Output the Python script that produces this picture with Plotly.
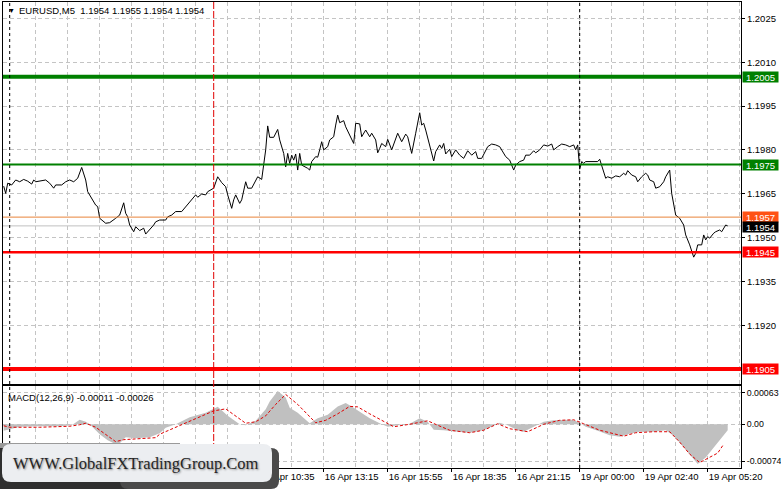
import plotly.graph_objects as go

# ---------------- data ----------------
title_text = "EURUSD,M5\u00a0\u00a01.1954 1.1955 1.1954 1.1954"
macd_label = "MACD(12,26,9) -0.00011 -0.00026"
watermark_text = "WWW.GlobalFXTradingGroup.Com"

price_bar = [0, 1, 2, 4, 6, 8, 10, 12, 14, 15, 16, 21, 23, 25, 26, 29, 31, 33, 35, 37,
             39, 41, 42, 44, 46, 47, 48, 51, 53, 56, 57, 58, 60, 61, 62, 63, 65, 66, 68, 70,
             71, 73, 75, 76, 78, 81, 82, 84, 86, 89, 91, 94, 96, 97, 99, 101, 102, 105, 107, 109,
             111, 112, 114, 115, 116, 118, 119, 121, 122, 124, 126, 127, 129, 130, 131, 132, 133, 135, 137, 138,
             140, 141, 142, 143, 144, 145, 146, 147, 148, 149, 151, 152, 153, 154, 156, 157, 158, 159, 160, 162,
             163, 165, 166, 167, 168, 170, 171, 173, 175, 176, 178, 179, 180, 181, 183, 184, 186, 187, 188, 189,
             191, 192, 194, 196, 197, 199, 201, 202, 203, 204, 206, 208, 209, 210, 211, 213, 215, 216, 218, 219,
             220, 221, 223, 224, 226, 228, 230, 232, 234, 236, 237, 239, 241, 242, 244, 246, 248, 250, 251, 253,
             255, 256, 258, 260, 261, 263, 265, 266, 268, 270, 272, 274, 275, 277, 279, 281, 283, 285, 286, 287,
             288, 289, 290, 291, 295, 297, 298, 299, 301, 302, 304, 306, 308, 310, 311, 312, 314, 316, 317, 319,
             321, 322, 323, 325, 326, 328, 330, 331, 333, 334, 335, 336, 338, 340, 341, 343, 345, 346, 347, 349,
             350, 351, 352, 353, 355, 356, 358, 359, 361, 362]
price_close = [1.19676, 1.19651, 1.19686, 1.19680, 1.19697, 1.19691, 1.19699, 1.19693, 1.19683, 1.19697,
               1.19691, 1.19697, 1.19686, 1.19669, 1.19680, 1.19680, 1.19691, 1.19697, 1.19691, 1.19703,
               1.19740, 1.19697, 1.19657, 1.19634, 1.19611, 1.19606, 1.19566, 1.19549, 1.19551, 1.19566,
               1.19571, 1.19577, 1.19619, 1.19583, 1.19571, 1.19543, 1.19520, 1.19537, 1.19524, 1.19532,
               1.19512, 1.19526, 1.19543, 1.19554, 1.19560, 1.19560, 1.19571, 1.19577, 1.19589, 1.19589,
               1.19606, 1.19629, 1.19646, 1.19638, 1.19649, 1.19646, 1.19657, 1.19669, 1.19708, 1.19688,
               1.19674, 1.19646, 1.19600, 1.19629, 1.19646, 1.19617, 1.19629, 1.19691, 1.19669, 1.19669,
               1.19697, 1.19708, 1.19699, 1.19742, 1.19800, 1.19882, 1.19843, 1.19843, 1.19870, 1.19834,
               1.19788, 1.19742, 1.19788, 1.19754, 1.19782, 1.19765, 1.19786, 1.19731, 1.19788, 1.19748,
               1.19742, 1.19737, 1.19731, 1.19760, 1.19777, 1.19775, 1.19800, 1.19828, 1.19800, 1.19811,
               1.19834, 1.19845, 1.19885, 1.19919, 1.19893, 1.19900, 1.19879, 1.19851, 1.19822, 1.19891,
               1.19889, 1.19845, 1.19857, 1.19868, 1.19845, 1.19857, 1.19834, 1.19790, 1.19805, 1.19822,
               1.19811, 1.19836, 1.19800, 1.19834, 1.19857, 1.19828, 1.19854, 1.19845, 1.19811, 1.19788,
               1.19857, 1.19927, 1.19885, 1.19891, 1.19868, 1.19811, 1.19762, 1.19794, 1.19817, 1.19805,
               1.19822, 1.19786, 1.19802, 1.19777, 1.19800, 1.19782, 1.19771, 1.19797, 1.19782, 1.19794,
               1.19771, 1.19771, 1.19800, 1.19811, 1.19820, 1.19817, 1.19811, 1.19788, 1.19777, 1.19765,
               1.19731, 1.19748, 1.19760, 1.19765, 1.19782, 1.19782, 1.19797, 1.19790, 1.19800, 1.19817,
               1.19813, 1.19820, 1.19800, 1.19811, 1.19820, 1.19817, 1.19811, 1.19817, 1.19800, 1.19817,
               1.19734, 1.19760, 1.19754, 1.19760, 1.19760, 1.19760, 1.19768, 1.19748, 1.19703, 1.19708,
               1.19703, 1.19711, 1.19708, 1.19720, 1.19714, 1.19729, 1.19714, 1.19708, 1.19691, 1.19708,
               1.19720, 1.19714, 1.19697, 1.19691, 1.19669, 1.19674, 1.19691, 1.19708, 1.19731, 1.19651,
               1.19611, 1.19577, 1.19566, 1.19543, 1.19509, 1.19475, 1.19433, 1.19446, 1.19475, 1.19475,
               1.19509, 1.19492, 1.19503, 1.19498, 1.19515, 1.19520, 1.19526, 1.19520, 1.19543, 1.19540]

macd_hist_bar = [0, 3, 8, 18, 28, 34, 38, 41, 43, 48, 52, 56, 58, 61, 66, 73, 78, 81, 86, 93,
                 101, 107, 112, 118, 121, 126, 131, 133, 137, 141, 143, 147, 150, 153, 157, 162, 167, 171, 174, 178,
                 183, 188, 192, 197, 203, 208, 212, 215, 220, 227, 233, 240, 245, 248, 252, 257, 260, 265, 270, 275,
                 280, 284, 287, 291, 297, 303, 308, 313, 318, 325, 331, 335, 340, 345, 347, 351, 356, 362]
macd_hist = [-0.00013, -0.0001, -0.00005, -0.00004, -0.00004, -0.00002, 0.00009, 0.00005, 0.0, -0.0002,
             -0.00032, -0.0004, -0.00038, -0.00026, -0.00028, -0.00026, -0.00018, -0.00007, 0.0, 0.00014,
             0.00023, 0.00035, 0.00017, 0.0, -0.00002, 0.00007, 0.0003, 0.00046, 0.00067, 0.00054,
             0.00033, 0.00023, 0.00012, 0.00002, 0.00012, 0.00019, 0.00036, 0.00043, 0.00036, 0.00026,
             0.00012, 0.00002, -0.00005, -0.00002, 0.00001, 0.00012, 0.00005, -0.00011, -0.00012, -0.00015,
             -0.00017, -0.00012, -0.00002, 0.00003, -0.00002, -0.00012, -0.00015, -0.00005, 0.00005, 0.00008,
             0.00009, 0.00009, 0.00005, -0.00005, -0.00013, -0.00022, -0.00025, -0.00019, -0.00015, -0.00015,
             -0.00012, -0.00023, -0.00046, -0.0007, -0.0008, -0.00067, -0.00043, -0.00012]

signal_bar = [0, 3, 18, 33, 38, 41, 46, 51, 56, 60, 68, 76, 78, 86, 93, 101, 105, 111, 116, 121,
              126, 131, 136, 141, 147, 152, 156, 161, 167, 173, 177, 183, 190, 195, 203, 212, 217, 223, 233, 240,
              247, 253, 262, 270, 278, 285, 290, 298, 310, 316, 325, 333, 338, 343, 348, 353, 357, 360]
signal_val = [-0.00003, -0.00006, -0.00006, -0.00004, -0.00001, 0.00002, -0.00006, -0.00021, -0.00035, -0.00031,
              -0.00029, -0.00027, -0.0002, -0.00006, 0.00007, 0.0002, 0.00027, 0.00031, 0.00017, 0.00002,
              0.00005, 0.00017, 0.0004, 0.0006, 0.0004, 0.00019, 0.00003, 0.00008, 0.00021, 0.00036,
              0.00035, 0.00021, 0.00005, -0.00005, 0.0, 0.00007, -0.00002, -0.00012, -0.00017, -0.00012,
              0.00001, -0.00009, -0.00015, 0.0, 0.00008, 0.00009, 0.00001, -0.00012, -0.00024, -0.00017,
              -0.00015, -0.00015, -0.00036, -0.0006, -0.00077, -0.00067, -0.00058, -0.0004]

level_values = [1.2005, 1.1975, 1.1957, 1.1945, 1.1905]
bid_value = 1.1954
price_ticks = [1.2025, 1.2010, 1.1995, 1.1980, 1.1965, 1.1950, 1.1935, 1.1920]
macd_ticks = [0.00063, 0.0, -0.00074]
macd_tick_labels = ["0.00063", "0.00", "-0.00074"]
time_tick_bars = [128, 160, 192, 224, 256, 288, 320, 352]
time_tick_labels = ["16 Apr 10:35", "16 Apr 13:15", "16 Apr 15:55", "16 Apr 18:35",
                    "16 Apr 21:15", "19 Apr 00:00", "19 Apr 02:40", "19 Apr 05:20"]
day_separator_bars = [3, 288]
marker_bar = 105

# ---------------- styles ----------------
level_line_colors = ["#008000", "#008000", "#e8843a", "#ff0000", "#ff0000"]
level_line_widths = [4, 2, 1, 2.5, 4]
level_label_bg = ["#008000", "#008000", "#ff5214", "#ff0000", "#ff0000"]
GRID = "#c4c4c4"
GRID_DASH = "4px,3px"
FONT = "Liberation Sans"

W, H = 781, 489
ML, MR, MT, MB = 3, 40, 2, 21
PW = W - ML - MR
PH = H - MT - MB


def px_x(px):
    return (px - ML) / PW


def px_y(py):
    return (H - MB - py) / PH


main_dom = [px_y(384), 1.0]
macd_dom = [0.0, px_y(386)]
X_RANGE = [-0.35, 368.65]

fig = go.Figure()
fig.add_trace(go.Scatter(x=price_bar, y=price_close, mode="lines",
                         line=dict(color="black", width=1), xaxis="x", yaxis="y",
                         hoverinfo="skip"))
fig.add_trace(go.Scatter(x=macd_hist_bar, y=macd_hist, mode="lines", fill="tozeroy",
                         fillcolor="#c0c0c0", line=dict(width=0, color="#c0c0c0"),
                         xaxis="x2", yaxis="y2", hoverinfo="skip"))
fig.add_trace(go.Scatter(x=signal_bar, y=signal_val, mode="lines",
                         line=dict(color="#e00000", width=1, dash="3px,2px"),
                         xaxis="x2", yaxis="y2", hoverinfo="skip"))

shapes = []
for v, c, w in zip(level_values, level_line_colors, level_line_widths):
    shapes.append(dict(type="line", xref="x", yref="y", x0=X_RANGE[0], x1=X_RANGE[1], y0=v, y1=v,
                       line=dict(color=c, width=w), layer="above"))
shapes.append(dict(type="line", xref="x", yref="y", x0=X_RANGE[0], x1=X_RANGE[1], y0=bid_value, y1=bid_value,
                   line=dict(color="#c0c0c0", width=1), layer="below"))
for b in day_separator_bars:
    shapes.append(dict(type="line", xref="x", yref="paper", x0=b, x1=b, y0=0, y1=1,
                       line=dict(color="black", width=1, dash="3px,3px"), layer="above"))
shapes.append(dict(type="line", xref="x", yref="paper", x0=marker_bar, x1=marker_bar, y0=0, y1=1,
                   line=dict(color="#e00000", width=1, dash="7px,2px"), layer="above"))


def rounded_path(x0, y0, x1, y1, r):
    X, Y = px_x, px_y
    return (f"M {X(x0 + r):.5f},{Y(y0):.5f} L {X(x1 - r):.5f},{Y(y0):.5f} "
            f"Q {X(x1):.5f},{Y(y0):.5f} {X(x1):.5f},{Y(y0 + r):.5f} "
            f"L {X(x1):.5f},{Y(y1 - r):.5f} Q {X(x1):.5f},{Y(y1):.5f} {X(x1 - r):.5f},{Y(y1):.5f} "
            f"L {X(x0 + r):.5f},{Y(y1):.5f} Q {X(x0):.5f},{Y(y1):.5f} {X(x0):.5f},{Y(y1 - r):.5f} "
            f"L {X(x0):.5f},{Y(y0 + r):.5f} Q {X(x0):.5f},{Y(y0):.5f} {X(x0 + r):.5f},{Y(y0):.5f} Z")


shapes.append(dict(type="rect", xref="paper", yref="paper", x0=px_x(0), x1=px_x(180),
                   y0=px_y(490), y1=px_y(443), fillcolor="#9a9a9a", line=dict(width=0), layer="above"))
shapes.append(dict(type="rect", xref="paper", yref="paper", x0=px_x(0), x1=px_x(180),
                   y0=px_y(490), y1=px_y(448), fillcolor="#2f2f2f", line=dict(width=0), layer="above"))
shapes.append(dict(type="path", xref="paper", yref="paper", path=rounded_path(120, 448, 279, 489, 8),
                   fillcolor="#4a4a4a", line=dict(width=0), layer="above"))
shapes.append(dict(type="path", xref="paper", yref="paper", path=rounded_path(2, 444, 272, 482, 9),
                   fillcolor="#eceef1", line=dict(width=0), layer="above"))

annotations = []
annotations.append(dict(xref="paper", yref="paper", x=px_x(6), y=px_y(10), xanchor="left",
                        yanchor="middle", text="\u25bc", showarrow=False,
                        font=dict(family=FONT, size=7, color="black")))
annotations.append(dict(xref="paper", yref="paper", x=px_x(17), y=px_y(10.5), xanchor="left",
                        yanchor="middle", text=title_text, showarrow=False,
                        font=dict(family=FONT, size=9.5, color="black")))
annotations.append(dict(xref="paper", yref="paper", x=px_x(6), y=px_y(397.5), xanchor="left",
                        yanchor="middle", text=macd_label, showarrow=False,
                        font=dict(family=FONT, size=9.5, color="black")))
for v, bg in zip(level_values, level_label_bg):
    annotations.append(dict(xref="paper", yref="y", x=1, y=v, xanchor="left", yanchor="middle",
                            xshift=1, text=f"{v:.4f}", showarrow=False, bgcolor=bg,
                            width=35, height=10, borderpad=0,
                            font=dict(family=FONT, size=9.5, color="white")))
annotations.append(dict(xref="paper", yref="y", x=1, y=bid_value, xanchor="left", yanchor="middle",
                        xshift=1, yshift=-1, text=f"{bid_value:.4f}", showarrow=False, bgcolor="black",
                        width=35, height=10, borderpad=0,
                        font=dict(family=FONT, size=9.5, color="white")))
annotations.append(dict(xref="paper", yref="paper", x=px_x(136), y=px_y(463.5), xanchor="center",
                        yanchor="middle", text=watermark_text, showarrow=False,
                        font=dict(family="Liberation Serif", size=16.5, color="#262626",
                                  shadow="1px 1px 2px #8a8a8a")))

x_common = dict(range=X_RANGE, showline=True, mirror=True, linecolor="black", linewidth=1,
                showgrid=True, gridcolor=GRID, griddash=GRID_DASH, gridwidth=1, zeroline=False,
                tickvals=time_tick_bars, ticktext=time_tick_labels,
                minor=dict(tick0=0, dtick=16, showgrid=True, gridcolor=GRID, griddash=GRID_DASH,
                           gridwidth=1, ticks=""))

y_common = dict(side="right", ticks="outside", ticklen=3, tickcolor="black", showline=True, mirror=True,
                linecolor="black", linewidth=1, showgrid=True, gridcolor=GRID, griddash=GRID_DASH,
                zeroline=False, automargin=False, ticklabelstandoff=0)

fig.update_layout(
    width=W, height=H,
    margin=dict(l=ML, r=MR, t=MT, b=MB, pad=0, autoexpand=False),
    paper_bgcolor="white", plot_bgcolor="white",
    showlegend=False,
    font=dict(family=FONT, size=9.5, color="black"),
    xaxis=dict(domain=[0, 1], anchor="y", showticklabels=False, ticks="", automargin=False, **x_common),
    xaxis2=dict(domain=[0, 1], anchor="y2", matches="x", showticklabels=True, ticks="outside",
                ticklen=3, tickcolor="black", ticklabelposition="outside right", automargin=False,
                tickfont=dict(family=FONT, size=9.5, color="black"), **x_common),
    yaxis=dict(domain=main_dom, anchor="x", range=[1.18999, 1.20306],
               tickvals=price_ticks, ticktext=[f"{t:.4f}" for t in price_ticks],
               tickfont=dict(family=FONT, size=9.5, color="black"), **y_common),
    yaxis2=dict(domain=macd_dom, anchor="x2", range=[-0.00088, 0.00077],
                tickvals=macd_ticks, ticktext=macd_tick_labels,
                tickfont=dict(family=FONT, size=8.8, color="black"), **y_common),
    shapes=shapes,
    annotations=annotations,
)

fig.write_html("out.html", config={"displayModeBar": False},
               post_script="document.body.style.margin='0px';document.body.style.overflow='hidden';")
